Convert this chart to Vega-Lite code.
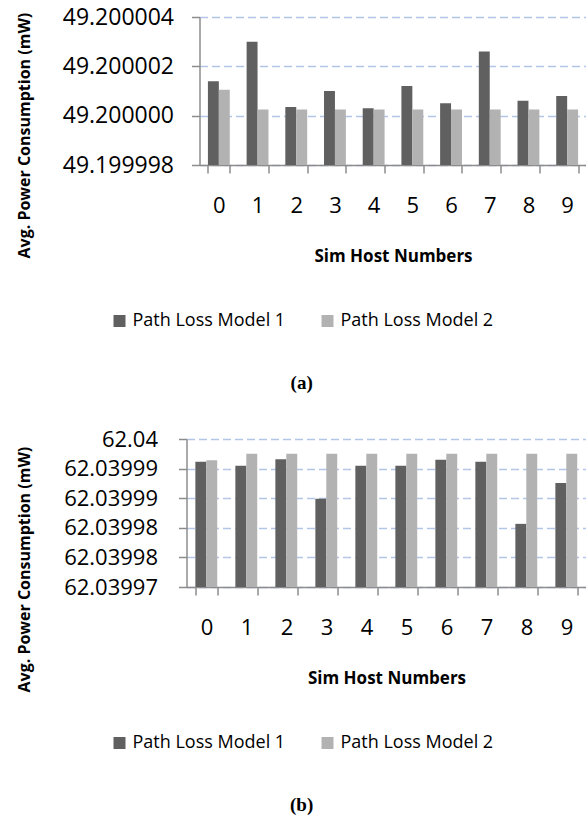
{
  "$schema": "https://vega.github.io/schema/vega-lite/v6.json",
  "background": "white",
  "padding": {"left": 16.5, "top": 6, "right": 0, "bottom": 0},
  "spacing": 35,
  "config": {
    "view": {"stroke": null},
    "font": "Open Sans",
    "axis": {
      "domainColor": "#8c8c8c",
      "domainWidth": 1.5,
      "tickColor": "#8c8c8c",
      "tickWidth": 1.5,
      "tickSize": 8,
      "labelColor": "black",
      "titleColor": "black",
      "titleFont": "Open Sans",
      "titleFontWeight": "bold",
      "labelFont": "Open Sans"
    },
    "legend": {"labelFont": "Open Sans", "labelColor": "black"}
  },
  "resolve": {"scale": {"x": "independent", "y": "independent", "color": "independent"}, "legend": {"color": "independent"}},
  "vconcat": [
    {
      "width": 400,
      "height": 148,
      "data": {"values": [
        {"host": 0, "model": "Path Loss Model 1", "power": 49.2000014},
        {"host": 0, "model": "Path Loss Model 2", "power": 49.20000105},
        {"host": 1, "model": "Path Loss Model 1", "power": 49.200003},
        {"host": 1, "model": "Path Loss Model 2", "power": 49.20000025},
        {"host": 2, "model": "Path Loss Model 1", "power": 49.20000035},
        {"host": 2, "model": "Path Loss Model 2", "power": 49.20000025},
        {"host": 3, "model": "Path Loss Model 1", "power": 49.200001},
        {"host": 3, "model": "Path Loss Model 2", "power": 49.20000025},
        {"host": 4, "model": "Path Loss Model 1", "power": 49.2000003},
        {"host": 4, "model": "Path Loss Model 2", "power": 49.20000025},
        {"host": 5, "model": "Path Loss Model 1", "power": 49.2000012},
        {"host": 5, "model": "Path Loss Model 2", "power": 49.20000025},
        {"host": 6, "model": "Path Loss Model 1", "power": 49.2000005},
        {"host": 6, "model": "Path Loss Model 2", "power": 49.20000025},
        {"host": 7, "model": "Path Loss Model 1", "power": 49.2000026},
        {"host": 7, "model": "Path Loss Model 2", "power": 49.20000025},
        {"host": 8, "model": "Path Loss Model 1", "power": 49.2000006},
        {"host": 8, "model": "Path Loss Model 2", "power": 49.20000025},
        {"host": 9, "model": "Path Loss Model 1", "power": 49.2000008},
        {"host": 9, "model": "Path Loss Model 2", "power": 49.20000025}
      ]},
      "title": {"text": "(a)", "orient": "bottom", "anchor": "middle", "frame": "bounds", "font": "Liberation Serif", "fontWeight": "bold", "fontSize": 19, "offset": 44, "color": "black"},
      "mark": {"type": "bar", "clip": true},
      "encoding": {
        "x": {"field": "host", "type": "nominal",
          "scale": {"paddingInner": 0.435, "paddingOuter": 0.2175, "range": [13, 400]},
          "axis": {"title": "Sim Host Numbers", "labelAngle": 0, "labelFontSize": 22, "labelPadding": 22, "titleFontSize": 17, "titlePadding": 32, "grid": false, "tickBand": "extent"}},
        "xOffset": {"field": "model", "type": "nominal"},
        "y": {"field": "power", "type": "quantitative",
          "scale": {"domain": [49.199998, 49.200004], "zero": false, "nice": false},
          "axis": {"offset": -13, "values": [49.199998, 49.2, 49.200002, 49.200004], "format": ".6f", "title": "Avg. Power Consumption (mW)", "labelFontSize": 23, "labelPadding": 18, "titleFontSize": 16, "titleAnchor": "start", "titleAlign": "left", "titleX": -169.7, "titleY": 241, "titleBaseline": "alphabetic", "grid": true, "gridColor": "#b4c6e7", "gridWidth": 1.5, "gridDash": [8, 4]}},
        "y2": {"datum": 49.199998},
        "color": {"field": "model", "type": "nominal",
          "scale": {"domain": ["Path Loss Model 1", "Path Loss Model 2"], "range": ["#606060", "#b2b2b2"]},
          "legend": {"orient": "none", "legendX": -76, "legendY": 295, "direction": "horizontal", "title": null, "symbolType": "square", "symbolSize": 144, "symbolStrokeWidth": 0, "labelFontSize": 18, "columnPadding": 33, "labelOffset": 4, "labelLimit": 300}}
      }
    },
    {
      "width": 400,
      "height": 148,
      "data": {"values": [
        {"host": 0, "model": "Path Loss Model 1", "power": 62.0399954},
        {"host": 0, "model": "Path Loss Model 2", "power": 62.0399957},
        {"host": 1, "model": "Path Loss Model 1", "power": 62.0399946},
        {"host": 1, "model": "Path Loss Model 2", "power": 62.039997},
        {"host": 2, "model": "Path Loss Model 1", "power": 62.0399959},
        {"host": 2, "model": "Path Loss Model 2", "power": 62.039997},
        {"host": 3, "model": "Path Loss Model 1", "power": 62.0399879},
        {"host": 3, "model": "Path Loss Model 2", "power": 62.039997},
        {"host": 4, "model": "Path Loss Model 1", "power": 62.0399946},
        {"host": 4, "model": "Path Loss Model 2", "power": 62.039997},
        {"host": 5, "model": "Path Loss Model 1", "power": 62.0399946},
        {"host": 5, "model": "Path Loss Model 2", "power": 62.039997},
        {"host": 6, "model": "Path Loss Model 1", "power": 62.0399958},
        {"host": 6, "model": "Path Loss Model 2", "power": 62.039997},
        {"host": 7, "model": "Path Loss Model 1", "power": 62.0399954},
        {"host": 7, "model": "Path Loss Model 2", "power": 62.039997},
        {"host": 8, "model": "Path Loss Model 1", "power": 62.0399828},
        {"host": 8, "model": "Path Loss Model 2", "power": 62.039997},
        {"host": 9, "model": "Path Loss Model 1", "power": 62.0399911},
        {"host": 9, "model": "Path Loss Model 2", "power": 62.039997}
      ]},
      "title": {"text": "(b)", "orient": "bottom", "anchor": "middle", "frame": "bounds", "font": "Liberation Serif", "fontWeight": "bold", "fontSize": 19, "offset": 44, "color": "black"},
      "mark": {"type": "bar", "clip": true},
      "encoding": {
        "x": {"field": "host", "type": "nominal",
          "scale": {"paddingInner": 0.443, "paddingOuter": 0.2215},
          "axis": {"title": "Sim Host Numbers", "labelAngle": 0, "labelFontSize": 22, "labelPadding": 22, "titleFontSize": 17, "titlePadding": 32, "grid": false, "tickBand": "extent"}},
        "xOffset": {"field": "model", "type": "nominal"},
        "y": {"field": "power", "type": "quantitative",
          "scale": {"domain": [62.03997, 62.04], "zero": false, "nice": false},
          "axis": {"values": [62.03997, 62.039976, 62.039982, 62.039988, 62.039994, 62.04], "labelExpr": "datum.value > 62.039999 ? '62.04' : format(datum.value, '.5f')", "title": "Avg. Power Consumption (mW)", "labelFontSize": 22, "labelPadding": 21, "titleFontSize": 16, "titleAnchor": "start", "titleAlign": "left", "titleX": -156.7, "titleY": 253, "titleBaseline": "alphabetic", "grid": true, "gridColor": "#b4c6e7", "gridWidth": 1.5, "gridDash": [8, 4]}},
        "y2": {"datum": 62.03997},
        "color": {"field": "model", "type": "nominal",
          "scale": {"domain": ["Path Loss Model 1", "Path Loss Model 2"], "range": ["#606060", "#b2b2b2"]},
          "legend": {"orient": "none", "legendX": -76, "legendY": 295, "direction": "horizontal", "title": null, "symbolType": "square", "symbolSize": 144, "symbolStrokeWidth": 0, "labelFontSize": 18, "columnPadding": 33, "labelOffset": 4, "labelLimit": 300}}
      }
    }
  ]
}
